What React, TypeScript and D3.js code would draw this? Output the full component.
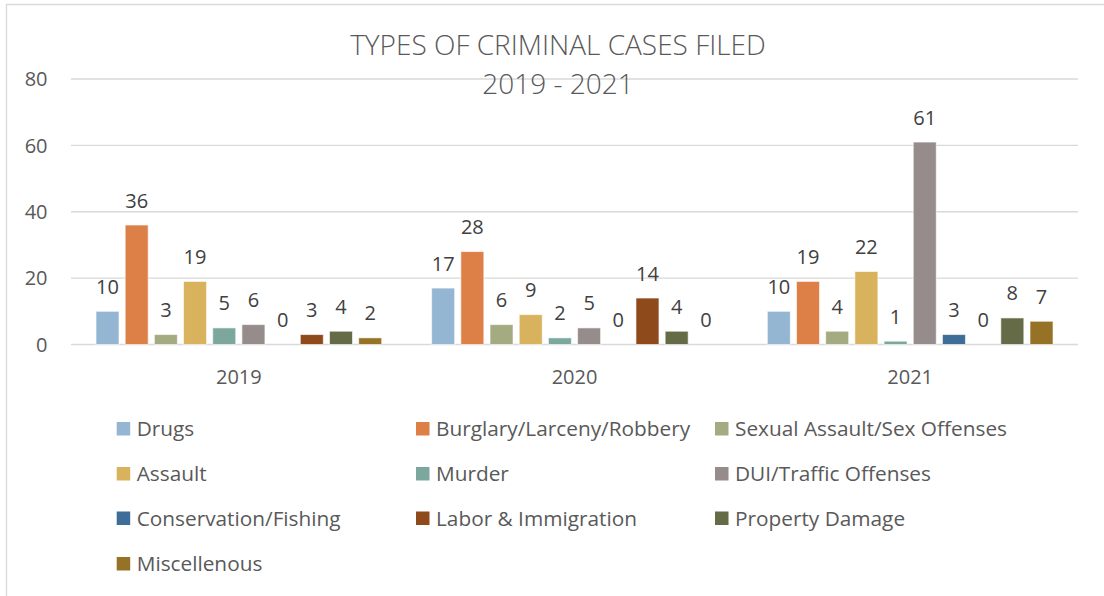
import React from "react";
import * as d3 from "d3";

const categories = ["2019", "2020", "2021"];
const seriesNames = [
  "Drugs",
  "Burglary/Larceny/Robbery",
  "Sexual Assault/Sex Offenses",
  "Assault",
  "Murder",
  "DUI/Traffic Offenses",
  "Conservation/Fishing",
  "Labor & Immigration",
  "Property Damage",
  "Miscellenous",
];
const drugs = [10, 17, 10];
const burglary = [36, 28, 19];
const sexual = [3, 6, 4];
const assault = [19, 9, 22];
const murder = [5, 2, 1];
const dui = [6, 5, 61];
const conservation = [0, 0, 3];
const labor = [3, 14, 0];
const property = [4, 4, 8];
const misc = [2, 0, 7];
const seriesValues = [drugs, burglary, sexual, assault, murder, dui, conservation, labor, property, misc];
const colors = [
  "#94B6D2",
  "#DD8047",
  "#A5AB81",
  "#D8B25C",
  "#7BA79D",
  "#968C8C",
  "#3E6D98",
  "#8F4A1C",
  "#666B47",
  "#957226",
];
const yTicks = [0, 20, 40, 60, 80];
const titleLines = ["TYPES OF CRIMINAL CASES FILED", "2019 - 2021"];

const W = 1104;
const H = 596;
const FONT = "'Open Sans', Lato, sans-serif";
const FS = 20;
const LFS = 20.8;

export default function App() {
  const plotLeft = 71;
  const plotRight = 1078;
  const y = d3.scaleLinear().domain([0, 80]).range([344.5, 79]);
  const x0 = d3.scaleBand<string>().domain(categories).range([plotLeft, plotRight]).paddingInner(0).paddingOuter(0);
  const x1 = d3
    .scaleBand<string>()
    .domain(seriesNames)
    .range([0, x0.bandwidth()])
    .paddingInner(0.212)
    .paddingOuter(0.856);

  const legendCols = [116.7, 416, 715];
  const legendRows = [429, 474, 518.5, 564];

  return (
    <svg width={W} height={H} style={{ position: "absolute", left: 0, top: 0, background: "#fff" }} fontFamily={FONT}>
      <rect x={0} y={0} width={W} height={H} fill="#fff" />
      <line x1={6} x2={W} y1={4.5} y2={4.5} stroke="#d9d9d9" strokeWidth={1.3} />
      <line x1={6.5} x2={6.5} y1={4} y2={H} stroke="#d9d9d9" strokeWidth={1.3} />
      {yTicks.map((t) => (
        <g key={t}>
          <line x1={plotLeft} x2={plotRight} y1={y(t)} y2={y(t)} stroke="#d9d9d9" strokeWidth={1.4} />
          <text x={47.5} y={y(t) + 7.2} textAnchor="end" fontSize={FS} fill="#595959">
            {t}
          </text>
        </g>
      ))}
      {categories.map((c, ci) => (
        <g key={c}>
          {seriesNames.map((s, si) => {
            const v = seriesValues[si][ci];
            const bx = (x0(c) as number) + (x1(s) as number);
            return (
              <g key={s}>
                {v > 0 && (
                  <rect
                    x={bx}
                    y={y(v)}
                    width={x1.bandwidth()}
                    height={y(0) - y(v)}
                    fill={colors[si]}
                    stroke="#ffffff"
                    strokeOpacity={0.6}
                    strokeWidth={1}
                  />
                )}
                <text x={bx + x1.bandwidth() / 2} y={y(v) - 17.5} textAnchor="middle" fontSize={FS} fill="#404040">
                  {v}
                </text>
              </g>
            );
          })}
          <text x={(x0(c) as number) + x0.bandwidth() / 2} y={383.5} textAnchor="middle" fontSize={FS} fill="#595959">
            {c}
          </text>
        </g>
      ))}
      {titleLines.map((t, i) => (
        <text key={t} x={558} y={55 + i * 38.5} textAnchor="middle" fontSize={28} fontWeight={300} fill="#595959">
          {t}
        </text>
      ))}
      {seriesNames.map((s, i) => {
        const col = i % 3;
        const row = Math.floor(i / 3);
        const lx = legendCols[col];
        const ly = legendRows[row];
        return (
          <g key={s}>
            <rect x={lx} y={ly - 7} width={13.5} height={13.5} fill={colors[i]} />
            <text x={lx + 20} y={ly + 7.3} fontSize={LFS} fill="#595959">
              {s}
            </text>
          </g>
        );
      })}
    </svg>
  );
}
